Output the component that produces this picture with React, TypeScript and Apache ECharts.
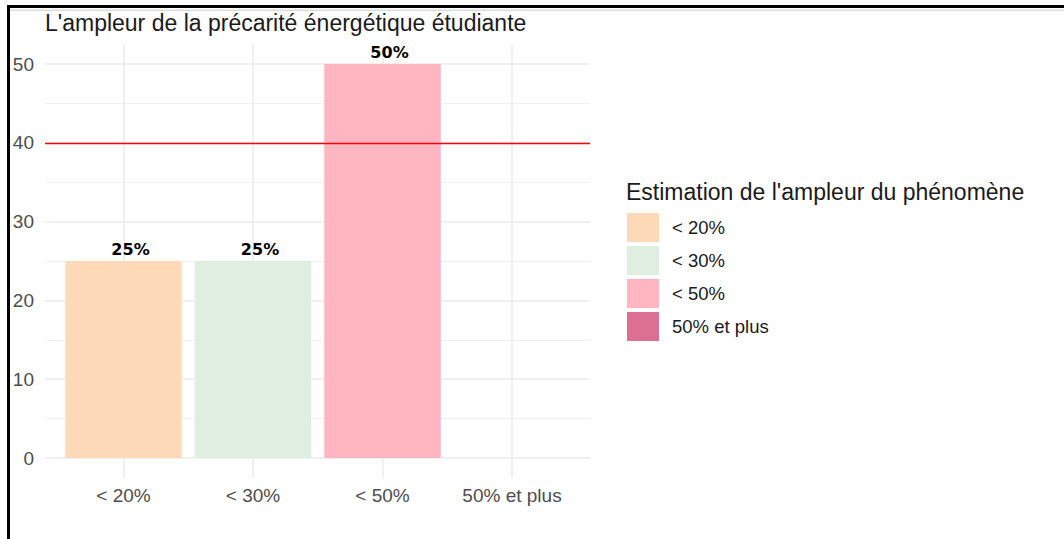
import React, { useEffect, useRef } from "react";
import * as echarts from "echarts";

const categories = ["< 20%", "< 30%", "< 50%", "50% et plus"];
const values = [25, 25, 50, 0];
const colors = ["#FFDAB9", "#E0EEE0", "#FFB6C1", "#DB7093"];
const thresholdValue = 40;
const yTicks = { min: 0, max: 50, interval: 10 };
const chartTitle = "L'ampleur de la précarité énergétique étudiante";
const legendTitle = "Estimation de l'ampleur du phénomène";

export default function App() {
  const ref = useRef<HTMLDivElement>(null);
  useEffect(() => {
    if (!ref.current) return;
    const chart = echarts.init(ref.current, null, { renderer: "svg" });
    const font = "'Liberation Sans', Arial, sans-serif";
    const barSeries = categories.map((name, i) => ({
      name,
      type: "bar",
      xAxisIndex: 1,
      yAxisIndex: 1,
      stack: "total",
      barWidth: "90%",
      itemStyle: { color: colors[i] },
      data: values.map((v, j) => (j === i ? v : "-")),
      label: {
        show: true,
        position: "top",
        distance: 4,
        offset: [7, 0],
        fontFamily: "'DejaVu Sans', sans-serif",
        fontWeight: "bold",
        fontSize: 16,
        color: "#000",
        formatter: (p: any) => (p.value ? `${p.value}%` : ""),
      },
      z: 2,
    }));
    chart.setOption({
      animation: false,
      backgroundColor: "#ffffff",
      textStyle: { fontFamily: font },
      title: [
        {
          text: chartTitle,
          left: 45,
          top: 11,
          padding: 0,
          textStyle: { fontFamily: font, fontSize: 23, fontWeight: "normal", color: "#1a1a1a" },
        },
        {
          text: legendTitle,
          left: 626,
          top: 180,
          padding: 0,
          textStyle: { fontFamily: font, fontSize: 23, fontWeight: "normal", color: "#1a1a1a" },
        },
      ],
      legend: {
        data: categories,
        orient: "vertical",
        left: 627,
        top: 213,
        padding: 0,
        icon: "rect",
        itemWidth: 32,
        itemHeight: 29,
        itemGap: 4,
        selectedMode: false,
        textStyle: { fontFamily: font, fontSize: 18.5, color: "#1a1a1a", padding: [0, 0, 0, 8] },
      },
      grid: [
        { left: 45, width: 545, top: 64, height: 394 },
        { left: 123.5, width: 388.5, top: 44.3, height: 433.4 },
      ],
      xAxis: [
        { type: "value", gridIndex: 0, min: 0, max: 1, show: false },
        {
          type: "category",
          gridIndex: 1,
          data: categories,
          boundaryGap: false,
          axisLine: { show: false },
          axisTick: { show: false },
          axisLabel: { fontFamily: font, fontSize: 19, color: "#4d4d4d", margin: 8 },
          splitLine: { show: true, lineStyle: { color: "#ebebeb", width: 1.5 } },
        },
      ],
      yAxis: [
        {
          type: "value",
          gridIndex: 0,
          min: yTicks.min,
          max: yTicks.max,
          interval: yTicks.interval,
          axisLine: { show: false },
          axisTick: { show: false },
          axisLabel: { fontFamily: font, fontSize: 19, color: "#4d4d4d", margin: 11 },
          splitLine: { show: true, lineStyle: { color: "#ebebeb", width: 1.5 } },
          minorTick: { show: false, splitNumber: 2 },
          minorSplitLine: { show: true, lineStyle: { color: "#f1f1f1", width: 1 } },
        },
        { type: "value", gridIndex: 1, min: -2.5, max: 52.5, show: false },
      ],
      series: [
        ...barSeries,
        {
          name: "seuil",
          type: "line",
          xAxisIndex: 0,
          yAxisIndex: 0,
          data: [],
          z: 5,
          markLine: {
            silent: true,
            symbol: "none",
            label: { show: false },
            lineStyle: { color: "#ff0000", width: 1.3, type: "solid" },
            data: [{ yAxis: thresholdValue }],
          },
        },
      ],
      graphic: [
        { type: "rect", shape: { x: 7, y: 5, width: 1057, height: 3 }, style: { fill: "#000" } },
        { type: "rect", shape: { x: 10, y: 9.5, width: 1054, height: 1.5 }, style: { fill: "#dcdcdc" } },
        { type: "rect", shape: { x: 7, y: 5, width: 3, height: 534 }, style: { fill: "#000" } },
      ],
    });
    return () => chart.dispose();
  }, []);
  return (
    <div
      ref={ref}
      style={{ position: "absolute", left: 0, top: 0, width: 1064, height: 539 }}
    />
  );
}
